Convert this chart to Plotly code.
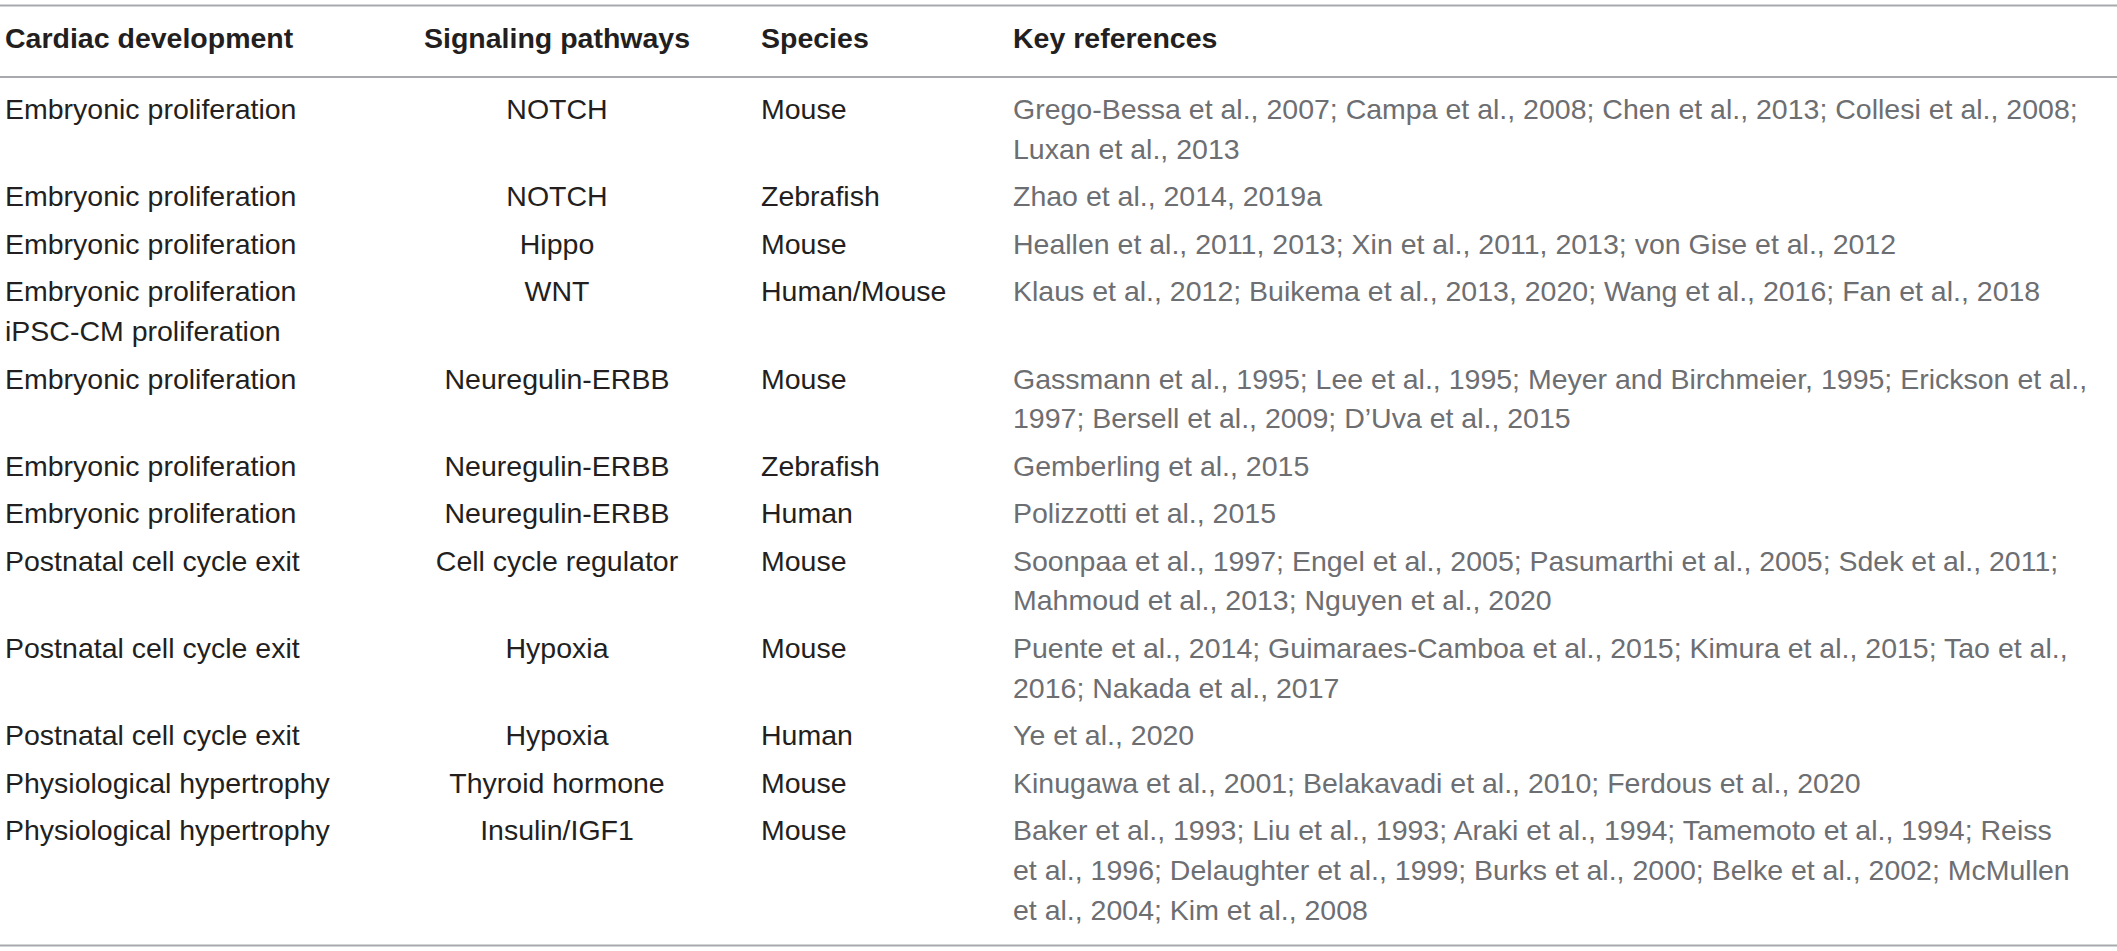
import plotly.graph_objects as go

# table content, one entry per row; "|" splits a cell into its printed lines
development = [
    "Embryonic proliferation",
    "Embryonic proliferation",
    "Embryonic proliferation",
    "Embryonic proliferation|iPSC-CM proliferation",
    "Embryonic proliferation",
    "Embryonic proliferation",
    "Embryonic proliferation",
    "Postnatal cell cycle exit",
    "Postnatal cell cycle exit",
    "Postnatal cell cycle exit",
    "Physiological hypertrophy",
    "Physiological hypertrophy",
]
pathways = [
    "NOTCH", "NOTCH", "Hippo", "WNT", "Neuregulin-ERBB", "Neuregulin-ERBB",
    "Neuregulin-ERBB", "Cell cycle regulator", "Hypoxia", "Hypoxia",
    "Thyroid hormone", "Insulin/IGF1",
]
species = [
    "Mouse", "Zebrafish", "Mouse", "Human/Mouse", "Mouse", "Zebrafish",
    "Human", "Mouse", "Mouse", "Human", "Mouse", "Mouse",
]
references = [
    "Grego-Bessa et al., 2007; Campa et al., 2008; Chen et al., 2013; Collesi et al., 2008;|Luxan et al., 2013",
    "Zhao et al., 2014, 2019a",
    "Heallen et al., 2011, 2013; Xin et al., 2011, 2013; von Gise et al., 2012",
    "Klaus et al., 2012; Buikema et al., 2013, 2020; Wang et al., 2016; Fan et al., 2018",
    "Gassmann et al., 1995; Lee et al., 1995; Meyer and Birchmeier, 1995; Erickson et al.,|1997; Bersell et al., 2009; D\u2019Uva et al., 2015",
    "Gemberling et al., 2015",
    "Polizzotti et al., 2015",
    "Soonpaa et al., 1997; Engel et al., 2005; Pasumarthi et al., 2005; Sdek et al., 2011;|Mahmoud et al., 2013; Nguyen et al., 2020",
    "Puente et al., 2014; Guimaraes-Camboa et al., 2015; Kimura et al., 2015; Tao et al.,|2016; Nakada et al., 2017",
    "Ye et al., 2020",
    "Kinugawa et al., 2001; Belakavadi et al., 2010; Ferdous et al., 2020",
    "Baker et al., 1993; Liu et al., 1993; Araki et al., 1994; Tamemoto et al., 1994; Reiss|et al., 1996; Delaughter et al., 1999; Burks et al., 2000; Belke et al., 2002; McMullen|et al., 2004; Kim et al., 2008",
]
headers = ["Cardiac development", "Signaling pathways", "Species", "Key references"]

W, H = 2117, 951
FONT = "Liberation Sans, Arial, sans-serif"
SIZE = 28.5
DARK = "#231f20"
GREY = "#6d6e71"
RULE = "#a7a9ac"

# layout (pixels)
col_x = [5, 557, 761, 1013]
col_anchor = ["middle right", "middle center", "middle right", "middle right"]
header_y = 41
top_rule, header_rule = 5.5, 77
first_line = 112
line_step = 39.7
row_gap = 47.5
bottom_pad = 33

columns = [development, pathways, species, references]
colors = [DARK, DARK, DARK, GREY]

# y position of each row's first line
n_lines = [max(len(c[i].split("|")) for c in columns) for i in range(len(development))]
row_y = []
y = first_line
for n in n_lines:
    row_y.append(y)
    y += (n - 1) * line_step + row_gap
bottom_rule = row_y[-1] + (n_lines[-1] - 1) * line_step + bottom_pad

fig = go.Figure()

# header
for j, h in enumerate(headers):
    fig.add_trace(go.Scatter(
        x=[col_x[j]], y=[header_y], mode="text", text=[f"<b>{h}</b>"],
        textposition=col_anchor[j],
        textfont=dict(family=FONT, size=SIZE, color=DARK),
        hoverinfo="skip", showlegend=False))

# body cells
for j, col in enumerate(columns):
    xs, ys, ts = [], [], []
    for i, cell in enumerate(col):
        for k, line in enumerate(cell.split("|")):
            xs.append(col_x[j])
            ys.append(row_y[i] + k * line_step)
            ts.append(line)
    fig.add_trace(go.Scatter(
        x=xs, y=ys, mode="text", text=ts, textposition=col_anchor[j],
        textfont=dict(family=FONT, size=SIZE, color=colors[j]),
        hoverinfo="skip", showlegend=False))

for yr in [top_rule, header_rule, bottom_rule]:
    fig.add_shape(type="line", x0=0, x1=W, y0=yr, y1=yr,
                  line=dict(color=RULE, width=2))

fig.update_xaxes(range=[0, W], visible=False, fixedrange=True)
fig.update_yaxes(range=[H, 0], visible=False, fixedrange=True)
fig.update_layout(
    width=W, height=H,
    margin=dict(l=0, r=0, t=0, b=0),
    paper_bgcolor="white", plot_bgcolor="white",
)

# drop the default page margin so the figure sits at the window's corner
fig.write_html("out.html", config={"displayModeBar": False},
               post_script="document.body.style.margin='0';")
